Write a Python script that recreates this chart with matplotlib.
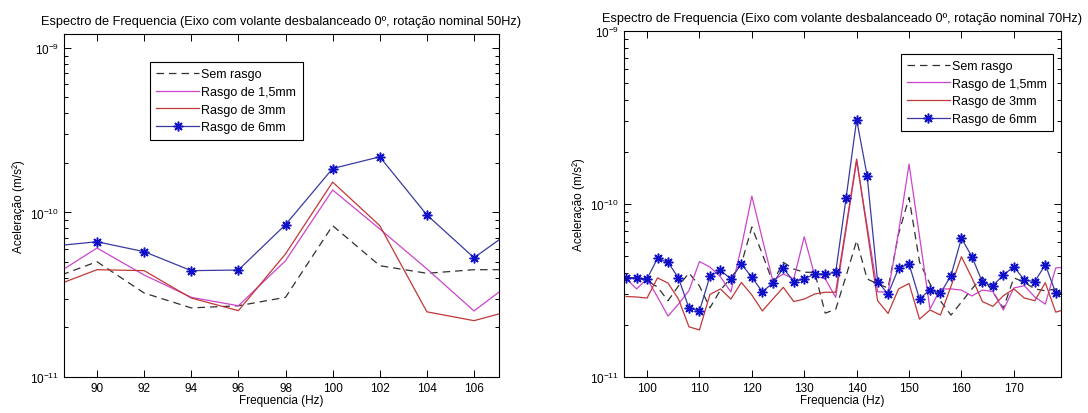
import numpy as np
import matplotlib
matplotlib.use('Agg')
import matplotlib.pyplot as plt
from matplotlib.ticker import LogLocator, NullFormatter, FixedLocator

plt.rcParams['font.family'] = ['Liberation Sans', 'DejaVu Sans']
plt.rcParams['mathtext.fontset'] = 'custom'
plt.rcParams['mathtext.rm'] = 'Liberation Sans'

# --- 50 Hz run (values in units of 1e-11 m/s^2)
freq_50 = [88, 90, 92, 94, 96, 98, 100, 102, 104, 106, 108]
sem_50 = [3.93, 5.02, 3.24, 2.63, 2.71, 3.05, 8.32, 4.75, 4.27, 4.49, 4.49]
r15_50 = [4.00, 6.08, 4.17, 3.05, 2.71, 5.09, 13.7, 7.94, 4.54, 2.52, 4.15]
r3_50 = [3.49, 4.49, 4.43, 3.02, 2.53, 5.60, 15.3, 8.32, 2.49, 2.20, 2.63]
r6_50 = [6.22, 6.64, 5.78, 4.43, 4.47, 8.43, 18.5, 21.8, 9.66, 5.31, 8.51]

# --- 70 Hz run (values in units of 1e-11 m/s^2)
freq_70 = [96, 98, 100, 102, 104, 106, 108, 110, 112, 114, 116, 118, 120, 122,
           124, 126, 128, 130, 132, 134, 136, 138, 140, 142, 144, 146, 148, 150,
           152, 154, 156, 158, 160, 162, 164, 166, 168, 170, 172, 174, 176, 178, 180]
sem_70 = [3.76, 3.74, 3.61, 3.31, 2.76, 3.36, 3.99, 3.36, 2.51, 3.18, 3.74, 4.50, 7.36, 5.14,
          3.53, 4.60, 4.21, 4.03, 4.03, 2.34, 2.46, 3.85, 6.14, 3.69, 3.45, 3.27, 6.71, 10.9,
          4.62, 3.45, 2.75, 2.28, 2.71, 3.23, 3.79, 3.10, 2.50, 3.74, 3.53, 3.23, 3.15, 3.23, 3.23]
r15_70 = [3.72, 3.23, 3.69, 2.90, 2.25, 2.64, 3.16, 4.65, 4.32, 3.79, 3.10, 5.64, 11.1, 6.28,
          3.60, 3.94, 3.69, 6.47, 3.85, 3.69, 2.89, 7.17, 17.8, 7.46, 3.11, 3.09, 6.89, 17.0,
          6.49, 2.47, 3.23, 3.23, 3.18, 2.94, 3.18, 3.12, 2.44, 3.27, 3.37, 2.90, 2.64, 4.27, 4.32]
r3_70 = [2.92, 2.90, 2.86, 3.74, 3.49, 2.82, 1.95, 1.87, 3.00, 3.23, 2.82, 3.52, 2.98, 2.41,
         2.82, 3.30, 2.73, 2.82, 3.02, 3.09, 3.09, 7.46, 18.2, 7.07, 2.76, 2.33, 3.23, 3.47,
         2.16, 2.44, 2.28, 3.34, 4.96, 3.74, 2.73, 2.56, 2.95, 3.23, 2.86, 2.76, 3.51, 2.37, 2.47]
r6_70 = [3.74, 3.74, 3.69, 4.86, 4.60, 3.74, 2.50, 2.41, 3.82, 4.14, 3.69, 4.50, 3.77, 3.11,
         3.49, 4.25, 3.56, 3.69, 3.94, 3.94, 4.03, 10.9, 30.7, 14.6, 3.56, 3.02, 4.25, 4.50,
         2.82, 3.20, 3.05, 3.85, 6.34, 4.96, 3.53, 3.37, 3.89, 4.34, 3.64, 3.56, 4.46, 3.06, 3.14]

labels = ['Sem rasgo', 'Rasgo de 1,5mm', 'Rasgo de 3mm', 'Rasgo de 6mm']
xticks_50 = [90, 92, 94, 96, 98, 100, 102, 104, 106]
xticks_70 = [100, 110, 120, 130, 140, 150, 160, 170]

scale = 1e-11
fs = 8.5

fig = plt.figure(figsize=(10.88, 4.14), dpi=100)
ax1 = fig.add_axes([64 / 1088, 36 / 414, 435 / 1088, 343 / 414])
ax2 = fig.add_axes([624 / 1088, 36 / 414, 437 / 1088, 346 / 414])


def draw(ax, f, s0, s1, s2, s3):
    f = np.array(f)
    ax.plot(f, np.array(s0) * scale, color='#303030', ls=(0, (6, 4)), lw=0.9)
    ax.plot(f, np.array(s1) * scale, color='#cc44cc', lw=0.9)
    ax.plot(f, np.array(s2) * scale, color='#c03838', lw=0.9)
    # MATLAB-style asterisk marker
    ax.plot(f, np.array(s3) * scale, color='#3a3aa0', lw=0.9, marker=(8, 2, 0),
            ms=7, mew=1.1, mfc='#1010c8', mec='#1010c8')


draw(ax1, freq_50, sem_50, r15_50, r3_50, r6_50)
draw(ax2, freq_70, sem_70, r15_70, r3_70, r6_70)

ax1.set_xlim(88.6, 107.06)
ax1.set_ylim(1e-11, 1.216e-9)
ax2.set_xlim(95.6, 179.0)
ax2.set_ylim(1e-11, 1e-9)

for ax, ticks, nom, anchor, loc in [
        (ax1, xticks_50, '50Hz', (0.198, 0.918), 'upper left'),
        (ax2, xticks_70, '70Hz', (0.982, 0.934), 'upper right')]:
    ax.set_yscale('log')
    ax.yaxis.set_major_locator(LogLocator(base=10, numticks=10))
    ax.yaxis.set_minor_locator(LogLocator(base=10, subs=np.arange(2, 10), numticks=10))
    ax.yaxis.set_minor_formatter(NullFormatter())
    ax.xaxis.set_major_locator(FixedLocator(ticks))
    ax.tick_params(which='both', direction='in', top=True, right=True,
                   labelsize=fs, width=0.7)
    ax.tick_params(which='major', length=5)
    ax.tick_params(which='minor', length=3)
    for sp in ax.spines.values():
        sp.set_linewidth(0.8)
    ax.set_xlabel('Frequencia (Hz)', fontsize=fs, labelpad=0)
    ax.set_ylabel('Aceleração (m/s²)', fontsize=fs, labelpad=4)
    ax.set_title('Espectro de Frequencia (Eixo com volante desbalanceado 0º, '
                 'rotação nominal ' + nom + ')', fontsize=9.2, pad=7)
    leg = ax.legend(labels, loc=loc, bbox_to_anchor=anchor, fontsize=9,
                    fancybox=False, edgecolor='black', framealpha=1,
                    handlelength=3.4, handletextpad=0.2, borderpad=0.5,
                    labelspacing=0.45, borderaxespad=0)
    leg.get_frame().set_linewidth(0.8)

fig.savefig('out.png', dpi=100)
